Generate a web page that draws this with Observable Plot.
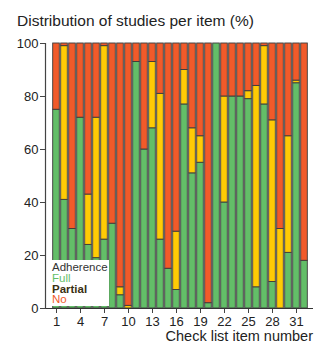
<!DOCTYPE html>
<html>
<head>
<meta charset="utf-8">
<script src="https://cdn.jsdelivr.net/npm/d3@7"></script>
<script src="https://cdn.jsdelivr.net/npm/@observablehq/plot@0.6"></script>
<style>
  body { margin: 0; background: #fff; font-family: "Liberation Sans", Arial, sans-serif; }
  #wrap { position: relative; width: 319px; height: 347px; }
  #title { position: absolute; left: 17px; top: 12px; font-size: 15.5px; color: #222; white-space: nowrap; }
  #legend { position: absolute; left: 50px; top: 260px; width: 59px; height: 46px; background: #fff; font-size: 11.5px; line-height: 10.8px; padding: 2px 0 0 2px; box-sizing: border-box; }
  #xlabel { position: absolute; right: 6px; top: 328px; font-size: 14.5px; color: #222; white-space: nowrap; }
</style>
</head>
<body>
<div id="wrap">
  <div id="chart"></div>
  <div id="title">Distribution of studies per item (%)</div>
  <div id="legend"></div>
  <div id="xlabel">Check list item number</div>
</div>
<script>
const items = d3.range(1, 33);
const full    = [75,41,30,72,24,19,26,32,5,0,93,60,68,26,15,7,77,51,55,2,100,40,80,80,79,8,77,10,0,21,85,18];
const partial = [0,58,0,0,19,53,73,0,3,1,0,0,25,55,0,22,13,17,10,0,0,40,0,0,3,76,22,61,30,44,1,0];
const no      = [25,1,70,28,57,28,1,68,92,99,7,40,7,19,85,71,10,32,35,98,0,20,20,20,18,16,1,29,70,35,14,82];
const categories = ["Full", "Partial", "No"];
const colors = ["#63BE68", "#FFCB05", "#F15A2A"];
const yTicks = [0, 20, 40, 60, 80, 100];
const xTicks = [1, 4, 7, 10, 13, 16, 19, 22, 25, 28, 31];

const rows = [];
items.forEach((it, i) => {
  rows.push({item: it, cat: "Full", value: full[i]});
  rows.push({item: it, cat: "Partial", value: partial[i]});
  rows.push({item: it, cat: "No", value: no[i]});
});

// left axis line drawn from the chart's own dimensions
const leftLine = (index, scales, values, dims) => {
  const ns = "http://www.w3.org/2000/svg";
  const l = document.createElementNS(ns, "line");
  const x = dims.marginLeft - 0.5;
  l.setAttribute("x1", x); l.setAttribute("x2", x);
  l.setAttribute("y1", scales.y(100)); l.setAttribute("y2", scales.y(0));
  l.setAttribute("stroke", "#444"); l.setAttribute("stroke-width", 1.2);
  return l;
};

const chart = Plot.plot({
  width: 319, height: 347,
  marginTop: 43, marginBottom: 39, marginLeft: 46, marginRight: 6,
  style: {fontFamily: "Liberation Sans, Arial, sans-serif", fontSize: "13px", color: "#222", background: "#fff"},
  x: {type: "band", domain: items, padding: 0, axis: null},
  y: {domain: [0, 100], axis: null},
  color: {domain: categories, range: colors},
  marks: [
    Plot.barY(rows, Plot.stackY({order: null}, {
      x: "item", y: "value", fill: "cat",
      stroke: "#3a3a3a", strokeWidth: 0.9, insetLeft: 0.7, insetRight: 0.7
    })),
    Plot.axisY({ticks: yTicks, tickSize: 6, tickPadding: 2, label: null, fontSize: 13, stroke: "#444"}),
    Plot.axisX({ticks: xTicks, tickSize: 5, tickPadding: 3, label: null, fontSize: 13, stroke: "#444"}),
    Plot.ruleY([0], {stroke: "#333", strokeWidth: 1.2}),
    leftLine
  ]
});
document.getElementById("chart").appendChild(chart);

const legendRows = [
  {t: "Adherence", c: "#333", w: "normal"},
  {t: "Full", c: colors[0], w: "normal"},
  {t: "Partial", c: "#3a3012", w: "bold"},
  {t: "No", c: colors[2], w: "normal"}
];
const lg = document.getElementById("legend");
legendRows.forEach(r => {
  const d = document.createElement("div");
  d.textContent = r.t;
  d.style.color = r.c;
  d.style.fontWeight = r.w;
  lg.appendChild(d);
});
</script>
</body>
</html>
